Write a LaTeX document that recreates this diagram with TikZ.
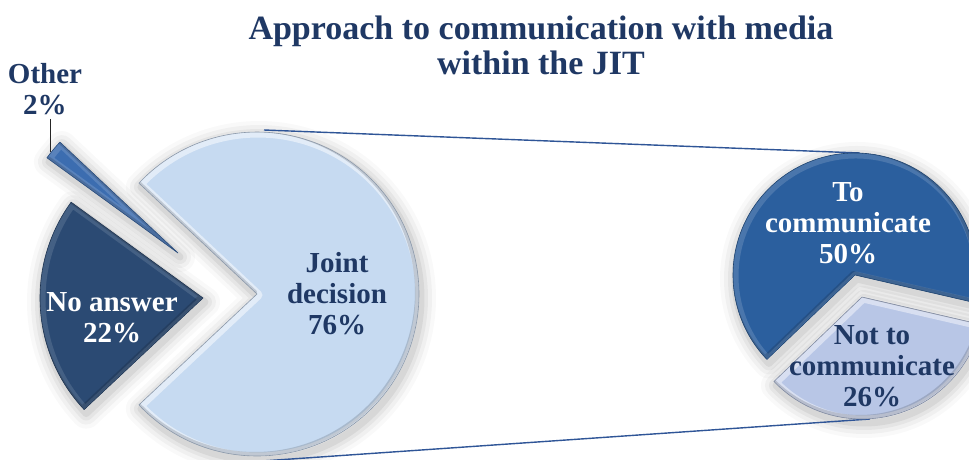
\documentclass[tikz,border=0pt]{standalone}
\usepackage{fontspec}
\setmainfont{Liberation Serif}
\definecolor{navy}{HTML}{1F3864}
\definecolor{joint}{HTML}{C6DAF1}
\definecolor{noans}{HTML}{2B4A73}
\definecolor{othercol}{HTML}{3C6DB0}
\definecolor{tocom}{HTML}{2B5F9E}
\definecolor{notcom}{HTML}{B8C6E6}
\definecolor{conn}{HTML}{2F5597}
\newcommand\sliceshadow[4]{%
  \foreach \w/\o in {30/0.025,22/0.035,14/0.045,7/0.06}{%
    \draw[line width=\w pt, black, opacity=\o, line join=round]
      ([shift={(2,-4)}]#1) -- ++(#3:#2) arc[start angle=#3,end angle=#4,radius=#2] -- cycle;}%
}
% vertex, radius, start, end, colour, rim opacity
\newcommand\slicefill[6]{%
  \fill[#5] (#1) -- ++(#3:#2) arc[start angle=#3,end angle=#4,radius=#2] -- cycle;
  \begin{scope}
    \clip (#1) -- ++(#3:#2) arc[start angle=#3,end angle=#4,radius=#2] -- cycle;
    \draw[white, opacity=#6, line width=9pt, line join=round]
      ([shift={(1,-1)}]#1) -- ++(#3:#2) arc[start angle=#3,end angle=#4,radius=#2] -- cycle;
    \draw[black, opacity=0.15, line width=4pt, line join=round]
      ([shift={(-2,2)}]#1) -- ++(#3:#2) arc[start angle=#3,end angle=#4,radius=#2] -- cycle;
  \end{scope}
  \draw[#5!70!black, line width=0.6pt, line join=round]
    (#1) -- ++(#3:#2) arc[start angle=#3,end angle=#4,radius=#2] -- cycle;
}
\tikzset{
  lab/.style={align=center, font=\fontsize{29}{31}\selectfont\bfseries, inner sep=0pt},
  titlelab/.style={align=center, font=\fontsize{34}{35}\selectfont\bfseries, text=navy, inner sep=0pt},
  connector/.style={conn, line width=1.4pt},
  leader/.style={black!85, line width=0.9pt}
}
\begin{document}
\begin{tikzpicture}[x=1pt,y=1pt]
\useasboundingbox (0,-459) rectangle (969,0);
\clip (0,-459) rectangle (969,0);
\fill[white] (0,-459) rectangle (969,0);
% vertices
\coordinate (cjoint) at (257,-294);
\coordinate (cnoans) at (203,-298);
\coordinate (cother) at (178,-253);
\coordinate (ctocom) at (855,-275);
\coordinate (cnotcom) at (862,-297);
% shadows
\sliceshadow{cjoint}{162}{-136.8}{136.8}
\sliceshadow{cnoans}{163}{144}{223.2}
\sliceshadow{cother}{162}{136.8}{144}
\sliceshadow{ctocom}{122}{-13}{223.8}
\sliceshadow{cnotcom}{122}{223.8}{347}
% connectors
\coordinate (ptop) at (264,-130);
\coordinate (stop) at (860,-153);
\coordinate (pbot) at (262,-461);
\coordinate (sbot) at (870,-419);
\draw[connector] (ptop) -- (stop);
\draw[connector] (pbot) -- (sbot);
% slices
\slicefill{cjoint}{162}{-136.8}{136.8}{joint}{0.5}
\slicefill{cnoans}{163}{144}{223.2}{noans}{0.12}
\slicefill{cother}{162}{136.8}{144}{othercol}{0.15}
\slicefill{ctocom}{122}{-13}{223.8}{tocom}{0.15}
\slicefill{cnotcom}{122}{223.8}{347}{notcom}{0.45}
% labels
\node[titlelab] (title) at (541,-45) {Approach to communication with media\\within the JIT};
\node[lab, text=navy] (jointlab) at (337,-294) {Joint\\decision\\76\%};
\node[lab, text=white] (noanslab) at (112,-318) {No answer\\22\%};
\node[lab, text=navy] (otherlab) at (45,-89) {Other\\2\%};
\node[lab, text=white] (tocomlab) at (848,-223) {To\\communicate\\50\%};
\node[lab, text=navy] (notcomlab) at (872,-366) {Not to\\communicate\\26\%};
\coordinate (othertip) at (50,-152);
\draw[leader] (otherlab.south -| othertip) ++(0,-4) -- (othertip);
\end{tikzpicture}
\end{document}
